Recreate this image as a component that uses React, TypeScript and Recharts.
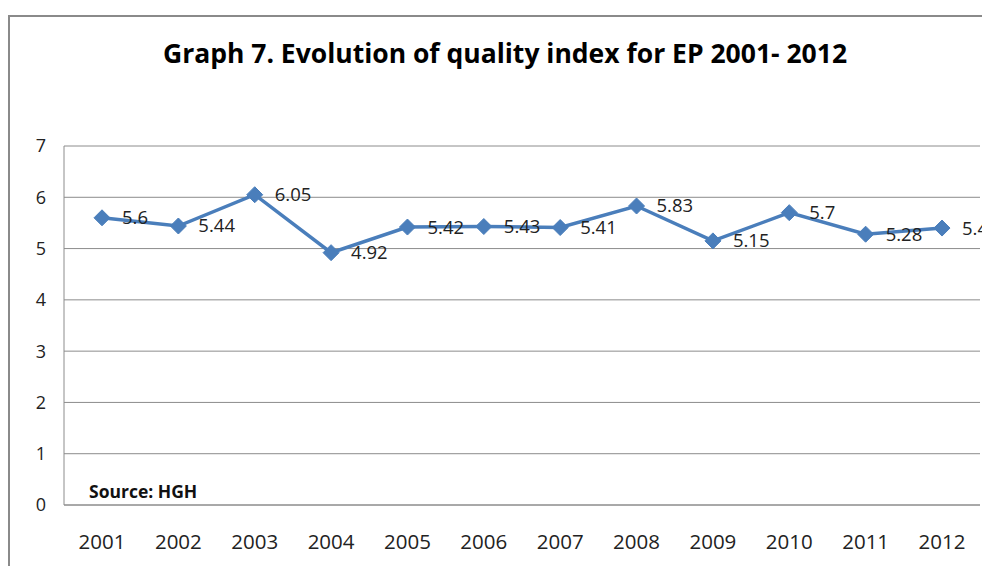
import React from "react";
import { LineChart, Line, XAxis, YAxis, CartesianGrid, LabelList } from "recharts";

const years = ["2001", "2002", "2003", "2004", "2005", "2006", "2007", "2008", "2009", "2010", "2011", "2012"];
const qualityIndex = [5.6, 5.44, 6.05, 4.92, 5.42, 5.43, 5.41, 5.83, 5.15, 5.7, 5.28, 5.4];
const yTicks = [0, 1, 2, 3, 4, 5, 6, 7];
const titleText = "Graph 7. Evolution of quality index for EP 2001- 2012";
const sourceText = "Source: HGH";

const data = years.map((y, i) => ({ year: y, value: qualityIndex[i] }));

const FONT = "'Open Sans', sans-serif";
const BLUE = "#4a7ebb";

const Diamond = (props: any) => {
  const { cx, cy } = props;
  if (cx == null || cy == null) return null;
  const r = 8;
  return (
    <polygon
      points={`${cx},${cy - r} ${cx + r},${cy} ${cx},${cy + r} ${cx - r},${cy}`}
      fill={BLUE}
      stroke={BLUE}
      strokeWidth={1}
    />
  );
};

const ValueLabel = (props: any) => {
  const { x, y, value } = props;
  return (
    <text x={x + 20} y={y} dy="0.35em" textAnchor="start" fontFamily={FONT} fontSize={18.5} fill="#222">
      {value}
    </text>
  );
};

export default function App() {
  return (
    <div style={{ position: "relative", width: 982, height: 558, overflow: "hidden", background: "#fff" }}>
      <div
        style={{
          position: "absolute",
          left: 0,
          top: 7,
          width: 1200,
          height: 800,
          borderLeft: "2px solid #8a8a8a",
          borderTop: "2px solid #8a8a8a",
          boxSizing: "border-box",
        }}
      />
      <div
        style={{
          position: "absolute",
          left: 0,
          top: 29,
          width: 994,
          textAlign: "center",
          fontFamily: FONT,
          fontWeight: 700,
          fontSize: 26.5,
          color: "#000",
          lineHeight: "32px",
          whiteSpace: "nowrap",
        }}
      >
        {titleText}
      </div>
      <div style={{ position: "absolute", left: 0, top: 0 }}>
        <LineChart
          width={1000}
          height={558}
          data={data}
          margin={{ top: 138, right: 28, left: 0, bottom: 31 }}
        >
          <CartesianGrid vertical={false} stroke="#8c8c8c" strokeWidth={1} />
          <XAxis
            dataKey="year"
            axisLine={{ stroke: "#8c8c8c" }}
            tickLine={false}
            height={30}
            padding={{ left: 38, right: 38 }}
            tick={{ fontFamily: FONT, fontSize: 20.5, fill: "#222", dy: 21 }}
            interval={0}
          />
          <YAxis
            domain={[0, 7]}
            ticks={yTicks}
            width={56}
            axisLine={{ stroke: "#8c8c8c" }}
            tickLine={false}
            tick={{ fontFamily: FONT, fontSize: 18, fill: "#222", dx: -10 }}
          />
          <Line
            type="linear"
            dataKey="value"
            stroke={BLUE}
            strokeWidth={3.5}
            dot={<Diamond />}
            activeDot={false}
            isAnimationActive={false}
          >
            <LabelList dataKey="value" content={<ValueLabel />} />
          </Line>
        </LineChart>
      </div>
      <div
        style={{
          position: "absolute",
          left: 81,
          top: 471,
          fontFamily: FONT,
          fontWeight: 700,
          fontSize: 17.5,
          color: "#111",
          whiteSpace: "nowrap",
        }}
      >
        {sourceText}
      </div>
    </div>
  );
}
